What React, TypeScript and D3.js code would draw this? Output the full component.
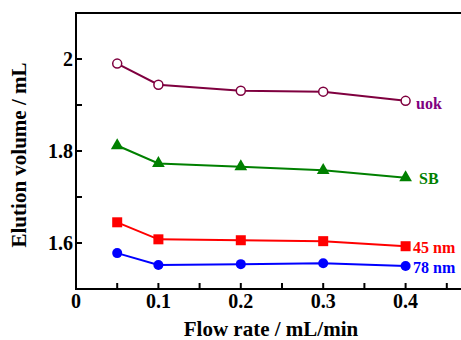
import React, { useRef, useEffect } from 'react';
import * as d3 from 'd3';

const flowRates = [0.05, 0.1, 0.2, 0.3, 0.4];
const unokValues = [1.99, 1.944, 1.931, 1.929, 1.909];
const sbValues = [1.812, 1.773, 1.766, 1.758, 1.742];
const nm45Values = [1.645, 1.608, 1.606, 1.604, 1.593];
const nm78Values = [1.578, 1.552, 1.554, 1.556, 1.55];
const xTicks = [0, 0.1, 0.2, 0.3, 0.4];
const yTicks = [1.6, 1.8, 2];

const series = [
  { name: 'uok', values: unokValues, color: '#7f003f', labelColor: '#800080', marker: 'openCircle', lx: 416, ly: 109 },
  { name: 'SB', values: sbValues, color: '#008000', labelColor: '#008000', marker: 'triangle', lx: 419, ly: 184 },
  { name: '45 nm', values: nm45Values, color: '#ff0000', labelColor: '#ff0000', marker: 'square', lx: 413, ly: 253 },
  { name: '78 nm', values: nm78Values, color: '#0000ff', labelColor: '#0000ff', marker: 'circle', lx: 413, ly: 273 },
];

const App: React.FC = () => {
  const svgRef = useRef<SVGSVGElement | null>(null);
  const width = 461;
  const height = 340;

  useEffect(() => {
    const svg = d3.select(svgRef.current);
    svg.selectAll('*').remove();

    const left = 76, top = 13, bottom = 289;
    const x = d3.scaleLinear().domain([0, 0.5]).range([left, left + 412]);
    const y = d3.scaleLinear().domain([1.5, 2.1]).range([bottom, top]);
    const font = '"Liberation Serif", "Times New Roman", serif';

    // frame (right side runs off the picture)
    svg.append('path')
      .attr('d', `M${x(0.5)},${top}H${left}V${bottom}H${x(0.5)}`)
      .attr('fill', 'none').attr('stroke', '#000').attr('stroke-width', 2);

    // x ticks, pointing inward
    d3.range(0, 0.5, 0.05).forEach((t, i) => {
      if (i === 0) return;
      svg.append('line')
        .attr('x1', x(t)).attr('x2', x(t))
        .attr('y1', bottom).attr('y2', bottom - 6)
        .attr('stroke', '#000').attr('stroke-width', 2);
    });
    xTicks.forEach(t => {
      svg.append('text')
        .attr('x', x(t)).attr('y', bottom + 19)
        .attr('text-anchor', 'middle')
        .attr('font-family', font).attr('font-weight', 'bold').attr('font-size', 20)
        .text(t === 0 ? '0' : String(t));
    });

    // y ticks
    d3.range(1.6, 2.05, 0.1).forEach(t => {
      svg.append('line')
        .attr('x1', left).attr('x2', left + 6)
        .attr('y1', y(t)).attr('y2', y(t))
        .attr('stroke', '#000').attr('stroke-width', 2);
    });
    yTicks.forEach(t => {
      svg.append('text')
        .attr('x', left - 3).attr('y', y(t) + 7)
        .attr('text-anchor', 'end')
        .attr('font-family', font).attr('font-weight', 'bold').attr('font-size', 20)
        .text(String(t));
    });

    // axis titles
    svg.append('text')
      .attr('x', 271).attr('y', 336)
      .attr('text-anchor', 'middle')
      .attr('font-family', font).attr('font-weight', 'bold').attr('font-size', 21)
      .text('Flow rate / mL/min');
    svg.append('text')
      .attr('transform', `translate(26,155) rotate(-90)`)
      .attr('text-anchor', 'middle')
      .attr('font-family', font).attr('font-weight', 'bold').attr('font-size', 21)
      .text('Elution volume / mL');

    const line = d3.line<number>()
      .x((_, i) => x(flowRates[i]))
      .y(d => y(d));

    series.forEach(s => {
      const g = svg.append('g');
      g.append('path')
        .attr('d', line(s.values))
        .attr('fill', 'none').attr('stroke', s.color).attr('stroke-width', 2);

      s.values.forEach((v, i) => {
        const cx = x(flowRates[i]);
        const cy = y(v);
        if (s.marker === 'openCircle') {
          g.append('circle').attr('cx', cx).attr('cy', cy).attr('r', 4.5)
            .attr('fill', '#fff').attr('stroke', s.color).attr('stroke-width', 1.5);
        } else if (s.marker === 'circle') {
          g.append('circle').attr('cx', cx).attr('cy', cy).attr('r', 5).attr('fill', s.color);
        } else if (s.marker === 'square') {
          g.append('rect').attr('x', cx - 5).attr('y', cy - 5)
            .attr('width', 10).attr('height', 10).attr('fill', s.color);
        } else {
          g.append('path')
            .attr('d', d3.symbol(d3.symbolTriangle, 70)())
            .attr('transform', `translate(${cx},${cy})`)
            .attr('fill', s.color);
        }
      });

      g.append('text')
        .attr('x', s.lx)
        .attr('y', s.ly)
        .attr('font-family', font).attr('font-weight', 'bold').attr('font-size', 16)
        .attr('fill', s.labelColor)
        .text(s.name);
    });
  }, []);

  return (
    <svg ref={svgRef} width={width} height={height}
      style={{ position: 'absolute', left: 0, top: 0, display: 'block' }} />
  );
};

export default App;
